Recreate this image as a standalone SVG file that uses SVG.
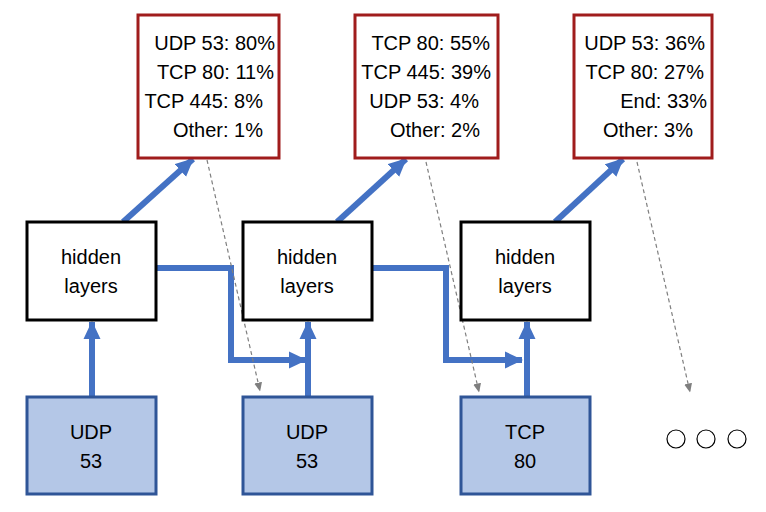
<svg xmlns="http://www.w3.org/2000/svg" width="766" height="512" viewBox="0 0 766 512">
<style>
.out{fill:#fff;stroke:#A01C1C;stroke-width:3}
.hid{fill:#fff;stroke:#000;stroke-width:3}
.inp{fill:#B4C7E7;stroke:#2F5597;stroke-width:3}
.t{font-family:"Liberation Sans",Arial,sans-serif;font-size:20px;fill:#000}
.m{text-anchor:middle}
.e{text-anchor:end}
.blue{fill:none;stroke:#4472C4;stroke-width:6}
.dash{fill:none;stroke:#7F7F7F;stroke-width:1.2;stroke-dasharray:4 3}
.dot{fill:#fff;stroke:#000;stroke-width:1.2}
</style>
<defs>
<marker id="ab" markerUnits="userSpaceOnUse" markerWidth="18" markerHeight="18" viewBox="0 0 18 18" refX="17" refY="9" orient="auto">
<path d="M0,0.5 L18,9 L0,17.5 z" fill="#4472C4"/>
</marker>
<marker id="ag" markerUnits="userSpaceOnUse" markerWidth="9" markerHeight="8" viewBox="0 0 9 8" refX="8.5" refY="4" orient="auto">
<path d="M0,0 L9,4 L0,8 z" fill="#7F7F7F"/>
</marker>
</defs>
<g id="connectors">
<path class="blue" d="M92,397 V322" marker-end="url(#ab)"/>
<path class="blue" d="M308,397 V322" marker-end="url(#ab)"/>
<path class="blue" d="M527,397 V322" marker-end="url(#ab)"/>
<path class="blue" d="M156,268 H231 V360 H306" marker-end="url(#ab)"/>
<path class="blue" d="M372,268 H446 V360 H522" marker-end="url(#ab)"/>
<path class="blue" d="M123,222 L193,159" marker-end="url(#ab)"/>
<path class="blue" d="M337,222 L406,159" marker-end="url(#ab)"/>
<path class="blue" d="M555,222 L623,159" marker-end="url(#ab)"/>
<path class="dash" d="M207,160 L260,391" marker-end="url(#ag)"/>
<path class="dash" d="M426,162 L479,392" marker-end="url(#ag)"/>
<path class="dash" d="M637,162 L690,392" marker-end="url(#ag)"/>
</g>
<g id="out1">
<rect class="out" x="138" y="15" width="141" height="143"/>
<text class="t e" x="275" y="50">UDP 53: 80%</text>
<text class="t e" x="274" y="79">TCP 80: 11%</text>
<text class="t e" x="263" y="108">TCP 445: 8%</text>
<text class="t e" x="263" y="137">Other: 1%</text>
</g>
<g id="out2">
<rect class="out" x="355" y="15" width="143" height="143"/>
<text class="t e" x="490" y="50">TCP 80: 55%</text>
<text class="t e" x="491" y="79">TCP 445: 39%</text>
<text class="t e" x="479" y="108">UDP 53: 4%</text>
<text class="t e" x="480" y="137">Other: 2%</text>
</g>
<g id="out3">
<rect class="out" x="574" y="15" width="138" height="143"/>
<text class="t e" x="705" y="50">UDP 53: 36%</text>
<text class="t e" x="704" y="79">TCP 80: 27%</text>
<text class="t e" x="707" y="108">End: 33%</text>
<text class="t e" x="693" y="137">Other: 3%</text>
</g>
<g id="hid1">
<rect class="hid" x="27" y="222" width="129" height="98"/>
<text class="t m" x="91" y="264">hidden</text>
<text class="t m" x="91" y="293">layers</text>
</g>
<g id="hid2">
<rect class="hid" x="243" y="222" width="129" height="98"/>
<text class="t m" x="307" y="264">hidden</text>
<text class="t m" x="307" y="293">layers</text>
</g>
<g id="hid3">
<rect class="hid" x="461" y="222" width="129" height="98"/>
<text class="t m" x="525" y="264">hidden</text>
<text class="t m" x="525" y="293">layers</text>
</g>
<g id="in1">
<rect class="inp" x="27" y="397" width="129" height="97"/>
<text class="t m" x="91" y="439">UDP</text>
<text class="t m" x="91" y="468">53</text>
</g>
<g id="in2">
<rect class="inp" x="243" y="397" width="129" height="97"/>
<text class="t m" x="307" y="439">UDP</text>
<text class="t m" x="307" y="468">53</text>
</g>
<g id="in3">
<rect class="inp" x="461" y="397" width="129" height="97"/>
<text class="t m" x="525" y="439">TCP</text>
<text class="t m" x="525" y="468">80</text>
</g>
<g id="ellipsis">
<circle class="dot" cx="676" cy="439" r="9"/>
<circle class="dot" cx="706" cy="439" r="9"/>
<circle class="dot" cx="737" cy="439" r="9"/>
</g>
</svg>
